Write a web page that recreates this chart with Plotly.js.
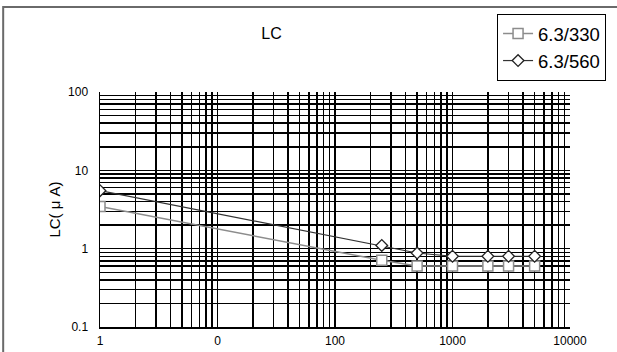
<!DOCTYPE html>
<html><head><meta charset="utf-8">
<script src="https://cdn.plot.ly/plotly-3.0.1.min.js"></script>
<style>body{margin:0;padding:0;background:#fff}#c{width:617px;height:352px}</style>
</head><body><div id="c"></div>
<script>
const xVals = [1, 250, 500, 1000, 2000, 3000, 5000];
const s330 = [3.45, 0.71, 0.6, 0.6, 0.6, 0.6, 0.6];
const s560 = [5.5, 1.1, 0.88, 0.8, 0.8, 0.8, 0.8];
const seriesNames = ['6.3/330', '6.3/560'];
const xTickVals = [1, 10, 100, 1000, 10000];
const xTickText = ['1', '0', '100', '1000', '10000'];
const yTickVals = [0.1, 1, 10, 100];
const yTickText = ['0.1', '1', '10', '100'];

const traces = [
  {x: xVals, y: s330, name: seriesNames[0], mode: 'lines+markers', type: 'scatter',
   line: {color: '#8c8c8c', width: 1.5},
   marker: {symbol: 'square', size: 10, color: '#ffffff', line: {color: '#8c8c8c', width: 1.5}}},
  {x: xVals, y: s560, name: seriesNames[1], mode: 'lines+markers', type: 'scatter',
   line: {color: '#333333', width: 1.2},
   marker: {symbol: 'diamond', size: 9, color: '#ffffff', line: {color: '#222222', width: 1.3}}}
];

const layout = {
  width: 617, height: 352,
  margin: {l: 100, r: 46, t: 92, b: 25},
  paper_bgcolor: '#ffffff', plot_bgcolor: '#ffffff',
  font: {family: 'Liberation Sans, Arial, sans-serif', size: 12, color: '#000'},
  title: {text: 'LC', x: 0.44, xanchor: 'center', y: 0.905, yanchor: 'middle', font: {size: 16, color: '#000'}},
  showlegend: true,
  legend: {x: 0.843, xanchor: 'left', y: 1.332, yanchor: 'top', bordercolor: '#000', borderwidth: 1,
           bgcolor: '#fff', font: {size: 18.5}, tracegroupgap: 0, itemwidth: 30},
  xaxis: {type: 'log', range: [0, 4], tickvals: xTickVals, ticktext: xTickText,
          showgrid: true, gridcolor: '#000', gridwidth: 1.5,
          minor: {dtick: 'D1', showgrid: true, gridcolor: '#000', gridwidth: 1.5, ticks: ''},
          showline: true, linecolor: '#000', linewidth: 1.5, ticks: '', zeroline: false,
          tickfont: {size: 12}, ticklabelstandoff: 2},
  yaxis: {type: 'log', range: [-1, 2], tickvals: yTickVals, ticktext: yTickText,
          showgrid: true, gridcolor: '#000', gridwidth: 1.5,
          minor: {dtick: 'D1', showgrid: true, gridcolor: '#000', gridwidth: 1.5, ticks: ''},
          showline: true, linecolor: '#000', linewidth: 1.5, ticks: '', zeroline: false,
          tickfont: {size: 12}, ticklabelstandoff: 8,
          title: {text: 'LC( μ A)', font: {size: 15}, standoff: 4}},
  shapes: [
    {type: 'rect', xref: 'paper', yref: 'paper', x0: -0.206, x1: 1.3, y0: -0.3, y1: 1.362,
     line: {color: '#6a6a6a', width: 2}, fillcolor: 'rgba(0,0,0,0)', layer: 'below'}
  ]
};

Plotly.newPlot('c', traces, layout, {displayModeBar: false, staticPlot: true});
</script></body></html>
